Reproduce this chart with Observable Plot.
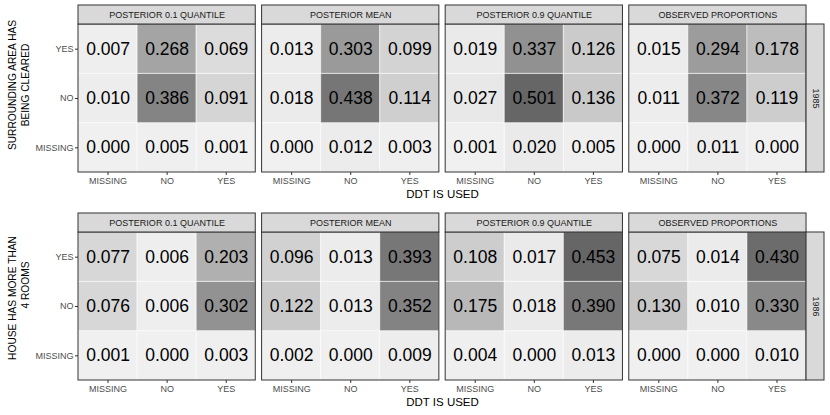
<!DOCTYPE html>
<html><head><meta charset="utf-8">
<script src="https://cdn.jsdelivr.net/npm/d3@7"></script>
<script src="https://cdn.jsdelivr.net/npm/@observablehq/plot@0.6"></script>
<style>
body{margin:0;background:#fff;}
#chart{width:830px;}
#chart svg{display:block;}
</style></head><body><div id="chart"></div>
<script>
// ---- data ----
const statLabels = ["POSTERIOR 0.1 QUANTILE", "POSTERIOR MEAN", "POSTERIOR 0.9 QUANTILE", "OBSERVED PROPORTIONS"];
const ddtLevels = ["MISSING", "NO", "YES"];      // x categories
const factorLevels = ["MISSING", "NO", "YES"];   // y categories (bottom to top)
const years = ["1985", "1986"];
const yTitle1985 = ["SURROUNDING AREA HAS", "BEING CLEARED"];
const yTitle1986 = ["HOUSE HAS MORE THAN", "4 ROOMS"];
const xTitle = "DDT IS USED";
// rows: y = MISSING, NO, YES ; columns: DDT = MISSING, NO, YES
const q10_1985 = [[0.000, 0.005, 0.001], [0.010, 0.386, 0.091], [0.007, 0.268, 0.069]];
const mean_1985 = [[0.000, 0.012, 0.003], [0.018, 0.438, 0.114], [0.013, 0.303, 0.099]];
const q90_1985 = [[0.001, 0.020, 0.005], [0.027, 0.501, 0.136], [0.019, 0.337, 0.126]];
const obs_1985 = [[0.000, 0.011, 0.000], [0.011, 0.372, 0.119], [0.015, 0.294, 0.178]];
const q10_1986 = [[0.001, 0.000, 0.003], [0.076, 0.006, 0.302], [0.077, 0.006, 0.203]];
const mean_1986 = [[0.002, 0.000, 0.009], [0.122, 0.013, 0.352], [0.096, 0.013, 0.393]];
const q90_1986 = [[0.004, 0.000, 0.013], [0.175, 0.018, 0.390], [0.108, 0.017, 0.453]];
const obs_1986 = [[0.000, 0.000, 0.010], [0.130, 0.010, 0.330], [0.075, 0.014, 0.430]];

// ---- layout (in panel units: one cell = 1) ----
const GAP = 0.107, RSTRIP = 0.304, TSTRIP = 0.385;
const STEP = 3 + GAP;
const XEND = 4 * 3 + 3 * GAP;
const FONT = "'Liberation Sans', Arial, Helvetica, sans-serif";

function makeRow(year, matrices, titleLines, titleDy) {
  const panels = statLabels.map((label, p) => ({label, x1: p * STEP, x2: p * STEP + 3, xc: p * STEP + 1.5}));
  const cells = matrices.flatMap((m, p) => m.flatMap((row, r) => row.map((value, c) => ({
    value, x1: p * STEP + c, x2: p * STEP + c + 1, xc: p * STEP + c + 0.5,
    y1: r, y2: r + 1, yc: r + 0.5, ylab: factorLevels[r], xlab: ddtLevels[c], stat: statLabels[p]
  }))));
  const maxV = d3.max(cells, d => d.value);
  const xTicks = panels.flatMap(pn => ddtLevels.map((_, c) => pn.x1 + c + 0.5));
  const yTicks = factorLevels.map((_, r) => r + 0.5);
  return Plot.plot({
    width: 830, height: year === "1985" ? 208 : 207,
    marginLeft: 78, marginRight: 6, marginTop: 5, marginBottom: year === "1985" ? 36 : 35,
    x: {domain: [0, XEND + RSTRIP]},
    y: {domain: [0, 3 + TSTRIP]},
    color: {type: "linear", domain: [0, maxV], range: ["#f0f0f0", "#666666"], interpolate: "lab"},
    style: {fontFamily: FONT, background: "white", color: "black"},
    marks: [
      Plot.rect(cells, {x1: "x1", x2: "x2", y1: "y1", y2: "y2", fill: "value", stroke: "white", strokeOpacity: 0.55, strokeWidth: 1}),
      Plot.text(cells, {x: "xc", y: "yc", text: d => d.value.toFixed(3), fontSize: 17.5, fill: "black"}),
      Plot.rect(panels, {x1: "x1", x2: "x2", y1: 0, y2: 3, fill: "none", stroke: "#333333", strokeWidth: 1}),
      Plot.rect(panels, {x1: "x1", x2: "x2", y1: 3, y2: 3 + TSTRIP, fill: "#d9d9d9", stroke: "#333333", strokeWidth: 1}),
      Plot.text(panels, {x: "xc", y: 3 + TSTRIP / 2, text: "label", fontSize: 9, fill: "#1a1a1a"}),
      Plot.rect([year], {x1: XEND, x2: XEND + RSTRIP, y1: 0, y2: 3, fill: "#d9d9d9", stroke: "#333333", strokeWidth: 1}),
      Plot.text([year], {x: XEND + RSTRIP / 2, y: 1.5, text: d => d, rotate: 90, fontSize: 9, fill: "#1a1a1a"}),
      Plot.axisX({ticks: xTicks, tickFormat: d => ddtLevels[Math.floor(d - Math.floor(d / STEP) * STEP)],
        tickSize: 3, tickPadding: 2, fontSize: 9, stroke: "#333333", fill: "#4d4d4d", label: null}),
      Plot.axisY({ticks: yTicks, tickFormat: d => factorLevels[Math.floor(d)],
        tickSize: 3, tickPadding: 2, fontSize: 9, stroke: "#333333", fill: "#4d4d4d", label: null}),
      Plot.text([xTitle], {x: XEND / 2, frameAnchor: "bottom", dy: 25, text: d => d, fontSize: 11.5, fill: "black"}),
      Plot.text([titleLines[0]], {frameAnchor: "left", dx: -66, dy: titleDy[0], rotate: -90, textAnchor: "middle", text: d => d, fontSize: 10.2, fill: "black"}),
      Plot.text([titleLines[1]], {frameAnchor: "left", dx: -53, dy: titleDy[1], rotate: -90, textAnchor: "middle", text: d => d, fontSize: 10.2, fill: "black"})
    ]
  });
}

const chart = document.getElementById("chart");
chart.appendChild(makeRow(years[0], [q10_1985, mean_1985, q90_1985, obs_1985], yTitle1985, [-4, -4]));
chart.appendChild(makeRow(years[1], [q10_1986, mean_1986, q90_1986, obs_1986], yTitle1986, [1, -12]));
</script></body></html>
